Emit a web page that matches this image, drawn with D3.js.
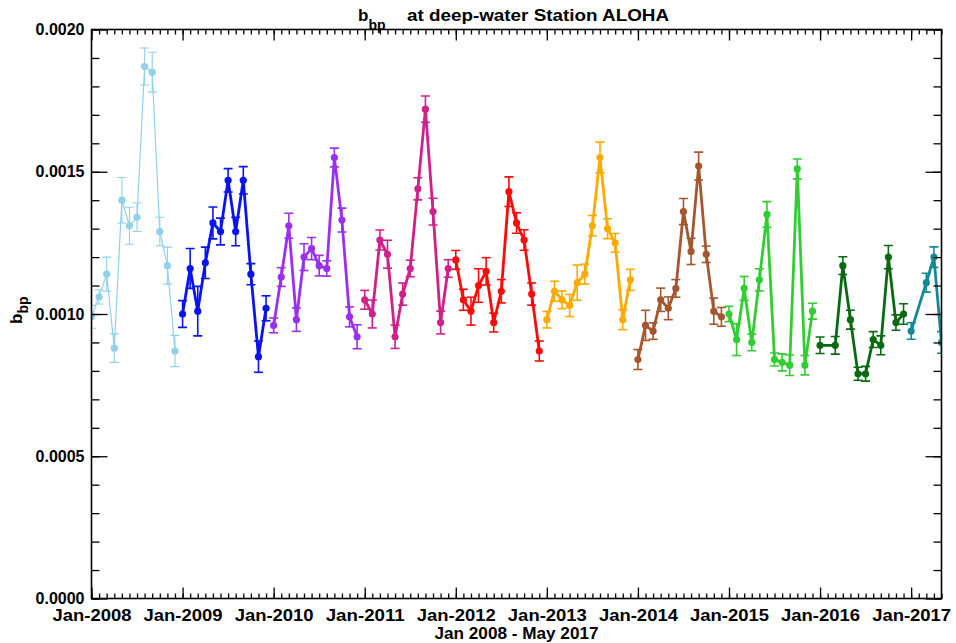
<!DOCTYPE html>
<html>
<head>
<meta charset="utf-8">
<script src="https://cdn.jsdelivr.net/npm/d3@7/dist/d3.min.js"></script>
<style>
  body { margin: 0; background: #fff; }
  svg { display: block; }
  text { font-family: "Liberation Sans", Arial, sans-serif; font-weight: bold; fill: #000; }
</style>
</head>
<body>
<svg id="chart" width="956" height="643"></svg>
<script>
// Monthly b_bp at Station ALOHA, one array per year (Jan..Dec, null = no data)
const years = [2008, 2009, 2010, 2011, 2012, 2013, 2014, 2015, 2016, 2017];

const bbp2008 = [0.00099, 0.00106, 0.00114, 0.00088, 0.00140, 0.00131, 0.00134, 0.00187, 0.00185, 0.00129, 0.00117, 0.00087];
const err2008 = [0.00004, 0.000025, 0.00006, 0.00005, 0.00008, 0.000065, 0.00005, 0.000065, 0.00007, 0.00005, 0.000065, 0.000055];

const bbp2009 = [0.00100, 0.00116, 0.00101, 0.00118, 0.00132, 0.00129, 0.00147, 0.00129, 0.00147, 0.00114, 0.00085, 0.00102];
const err2009 = [0.000047, 0.00007, 0.000087, 0.000055, 0.000056, 0.000047, 0.000041, 0.00005, 0.000048, 0.000037, 0.000055, 0.000044];

const bbp2010 = [0.00096, 0.00113, 0.00131, 0.00098, 0.00120, 0.00123, 0.00117, 0.00116, 0.00155, 0.00133, 0.00099, 0.00092];
const err2010 = [0.000026, 0.000033, 0.000044, 0.000041, 0.000047, 0.000039, 0.000036, 0.000027, 0.000033, 0.000042, 0.000035, 0.000042];

const bbp2011 = [0.00105, 0.00100, 0.00126, 0.00121, 0.00092, 0.00107, 0.00116, 0.00144, 0.00172, 0.00136, 0.00097, 0.00116];
const err2011 = [0.000033, 0.000049, 0.000035, 0.000049, 0.000041, 0.000039, 0.000029, 0.000039, 0.000046, 0.000047, 0.00004, 0.000031];

const bbp2012 = [0.00119, 0.00105, 0.00101, 0.00110, 0.00115, 0.00097, 0.00108, 0.00143, 0.00132, 0.00126, 0.00107, 0.00087];
const err2012 = [0.000033, 0.000037, 0.000049, 0.000059, 0.000048, 0.000033, 0.000041, 0.000052, 0.000036, 0.000036, 0.000039, 0.000035];

const bbp2013 = [0.00098, 0.00108, 0.00105, 0.00103, 0.00111, 0.00114, 0.00131, 0.00155, 0.00130, 0.00125, 0.00098, 0.00112];
const err2013 = [0.000029, 0.000035, 0.000031, 0.000039, 0.000062, 0.000035, 0.000036, 0.000054, 0.000035, 0.000033, 0.000035, 0.000037];

const bbp2014 = [0.00084, 0.00096, 0.00094, 0.00105, 0.00102, 0.00109, 0.00136, 0.00122, 0.00152, 0.00121, 0.00101, 0.00099];
const err2014 = [0.000035, 0.000053, 0.000029, 0.000041, 0.00004, 0.000031, 0.000046, 0.000046, 0.000049, 0.000029, 0.000046, 0.000033];

const bbp2015 = [0.00100, 0.00091, 0.00109, 0.00090, 0.00112, 0.00135, 0.00084, 0.00083, 0.00082, 0.00151, 0.00082, 0.00101];
const err2015 = [0.000027, 0.000056, 0.000042, 0.000029, 0.000039, 0.000045, 0.000023, 0.00003, 0.000036, 0.000035, 0.000034, 0.000028];

const bbp2016 = [0.00089, null, 0.00089, 0.00117, 0.00098, 0.00079, 0.00079, 0.00091, 0.00089, 0.00120, 0.00097, 0.00100];
const err2016 = [0.000029, null, 0.000031, 0.000031, 0.000033, 0.000023, 0.000026, 0.000028, 0.000033, 0.000041, 0.000027, 0.000036];

const bbp2017 = [0.00094, null, 0.00111, 0.00120, 0.00090];
const err2017 = [0.000029, null, 0.000033, 0.000036, 0.000038];

const seriesValues = [bbp2008, bbp2009, bbp2010, bbp2011, bbp2012, bbp2013, bbp2014, bbp2015, bbp2016, bbp2017];
const seriesErrors = [err2008, err2009, err2010, err2011, err2012, err2013, err2014, err2015, err2016, err2017];

// one colour per year
const yearColors = ["#8fd0ea", "#0a14f0", "#9b2ff0", "#d0208c", "#ff0a0a", "#ffaa00", "#a5562e", "#32cd32", "#0a6a12", "#118a96"];

const yTickValues = [0, 0.0005, 0.0010, 0.0015, 0.0020];
const xTickLabels = ["Jan-2008", "Jan-2009", "Jan-2010", "Jan-2011", "Jan-2012", "Jan-2013", "Jan-2014", "Jan-2015", "Jan-2016", "Jan-2017"];

// ---- layout ----
const svg = d3.select("#chart");
const L = 91.5, R = 941.5, T = 29.5, B = 598.5;

// x is in decimal years, months spaced evenly; axis runs Jan 2008 .. May 2017
const x = d3.scaleLinear().domain([2008, 2017 + 4 / 12]).range([L, R]);
const y = d3.scaleLinear().domain([0, 0.002]).range([B, T]);

const monthTicks = d3.range(0, 113).map(i => 2008 + i / 12);
const yearTicks = years.map(yr => yr);
const yMinor = d3.range(0, 21).map(i => i * 0.0001);

svg.append("defs").append("clipPath").attr("id", "plotClip")
  .append("rect").attr("x", L).attr("y", T).attr("width", R - L).attr("height", B - T);

// ---- data ----
const plot = svg.append("g").attr("clip-path", "url(#plotClip)");

const line = d3.line().x(d => x(d.t)).y(d => y(d.v));

years.forEach((yr, k) => {
  const pts = seriesValues[k]
    .map((v, m) => ({ t: yr + m / 12, v: v, e: seriesErrors[k][m] }))
    .filter(d => d.v !== null);
  const col = yearColors[k];
  const g = plot.append("g");
  const thin = k === 0;

  g.append("path").datum(pts).attr("d", line)
    .attr("fill", "none").attr("stroke", col)
    .attr("stroke-width", thin ? 1.2 : 2.8).attr("stroke-linejoin", "round");

  const eb = g.selectAll("g.eb").data(pts).join("g").attr("class", "eb")
    .attr("stroke", col).attr("stroke-width", thin ? 1.1 : 1.6);
  eb.append("line")
    .attr("x1", d => x(d.t)).attr("x2", d => x(d.t))
    .attr("y1", d => y(d.v - d.e)).attr("y2", d => y(d.v + d.e));
  eb.append("line")
    .attr("x1", d => x(d.t) - 4.5).attr("x2", d => x(d.t) + 4.5)
    .attr("y1", d => y(d.v + d.e)).attr("y2", d => y(d.v + d.e));
  eb.append("line")
    .attr("x1", d => x(d.t) - 4.5).attr("x2", d => x(d.t) + 4.5)
    .attr("y1", d => y(d.v - d.e)).attr("y2", d => y(d.v - d.e));

  g.selectAll("circle").data(pts).join("circle")
    .attr("cx", d => x(d.t)).attr("cy", d => y(d.v))
    .attr("r", 3.6).attr("fill", col);
});

// ---- axes (ticks point inward on all four sides) ----
function strip(g) { g.select(".domain").remove(); g.selectAll(".tick line").attr("stroke", "#000").attr("stroke-width", 1.3); }

svg.append("g").attr("transform", `translate(0,${B})`)
  .call(d3.axisBottom(x).tickValues(monthTicks).tickSize(-5).tickFormat("")).call(strip);
svg.append("g").attr("transform", `translate(0,${B})`)
  .call(d3.axisBottom(x).tickValues(yearTicks).tickSize(-11).tickPadding(10)
    .tickFormat((d, i) => xTickLabels[i]))
  .call(strip)
  .selectAll("text").attr("font-size", 17).attr("textLength", 79).attr("lengthAdjust", "spacingAndGlyphs")
  .attr("font-family", "Liberation Sans, Arial, sans-serif").attr("font-weight", "bold").attr("fill", "#000");

svg.append("g").attr("transform", `translate(0,${T})`)
  .call(d3.axisTop(x).tickValues(monthTicks).tickSize(-5).tickFormat("")).call(strip);
svg.append("g").attr("transform", `translate(0,${T})`)
  .call(d3.axisTop(x).tickValues(yearTicks).tickSize(-11).tickFormat("")).call(strip);

svg.append("g").attr("transform", `translate(${L},0)`)
  .call(d3.axisLeft(y).tickValues(yMinor).tickSize(-8).tickFormat("")).call(strip);
svg.append("g").attr("transform", `translate(${L},0)`)
  .call(d3.axisLeft(y).tickValues(yTickValues).tickSize(-16).tickPadding(7).tickFormat(d3.format(".4f")))
  .call(strip)
  .selectAll("text").attr("font-size", 16).attr("textLength", 49).attr("lengthAdjust", "spacingAndGlyphs")
  .attr("font-family", "Liberation Sans, Arial, sans-serif").attr("font-weight", "bold").attr("fill", "#000");

svg.append("g").attr("transform", `translate(${R},0)`)
  .call(d3.axisRight(y).tickValues(yMinor).tickSize(-8).tickFormat("")).call(strip);
svg.append("g").attr("transform", `translate(${R},0)`)
  .call(d3.axisRight(y).tickValues(yTickValues).tickSize(-16).tickFormat("")).call(strip);

// frame
svg.append("rect").attr("x", L).attr("y", T).attr("width", R - L).attr("height", B - T)
  .attr("fill", "none").attr("stroke", "#000").attr("stroke-width", 1.6);

// ---- titles ----
const title = svg.append("text").attr("x", 358).attr("y", 21).attr("font-size", 17);
title.append("tspan").text("b");
title.append("tspan").attr("font-size", 14).attr("dy", 9).text("bp");
svg.append("text").attr("x", 407).attr("y", 21).attr("font-size", 17)
  .attr("textLength", 262).attr("lengthAdjust", "spacingAndGlyphs")
  .text("at deep-water Station ALOHA");

svg.append("text").attr("x", (L + R) / 2).attr("y", 639).attr("font-size", 17)
  .attr("text-anchor", "middle").attr("textLength", 164).attr("lengthAdjust", "spacingAndGlyphs")
  .text("Jan 2008 - May 2017");

const ylab = svg.append("text").attr("transform", `translate(22,${(T + B) / 2 + 10}) rotate(-90)`)
  .attr("font-size", 17);
ylab.append("tspan").text("b");
ylab.append("tspan").attr("font-size", 14).attr("dy", 6).text("bp");
</script>
</body>
</html>
